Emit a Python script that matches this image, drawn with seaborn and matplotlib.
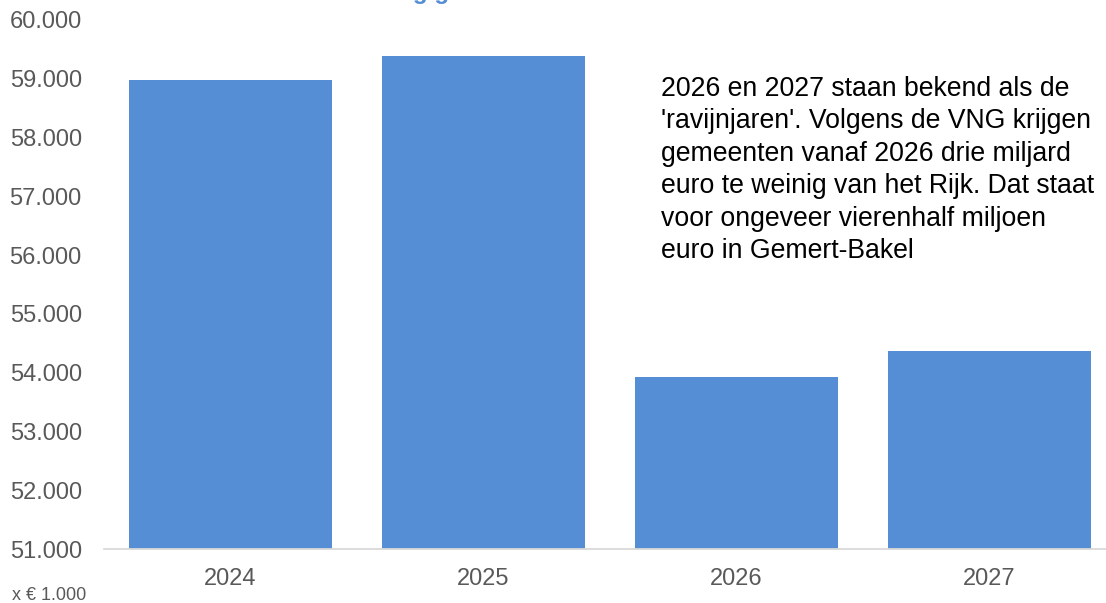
import matplotlib
matplotlib.use("Agg")
import matplotlib.pyplot as plt
import matplotlib.ticker as mticker
import numpy as np
import pandas as pd
import seaborn as sns

# Algemene uitkering per jaar (x € 1.000)
jaren = ["2024", "2025", "2026", "2027"]
bedragen = [58975, 59385, 53925, 54370]

y_ticks = list(range(51000, 60001, 1000))

toelichting = ("2026 en 2027 staan bekend als de\n"
               "'ravijnjaren'. Volgens de VNG krijgen\n"
               "gemeenten vanaf 2026 drie miljard\n"
               "euro te weinig van het Rijk. Dat staat\n"
               "voor ongeveer vierenhalf miljoen\n"
               "euro in Gemert-Bakel")

sns.set_theme(style="white")
plt.rcParams["font.family"] = ["Liberation Sans", "DejaVu Sans"]

df = pd.DataFrame({"jaar": jaren, "bedrag": bedragen})

fig = plt.figure(figsize=(11.06, 6.03), dpi=100)
ax = fig.add_axes([104 / 1106, 1 - 549 / 603, 1012 / 1106, 529 / 603])

sns.barplot(data=df, x="jaar", y="bedrag", color="#558ED5", saturation=1,
            width=0.8, ax=ax)
for p in ax.patches:
    p.set_edgecolor("none")

ax.set_xlim(-0.5, 3.5)
ax.set_ylim(51000, 60000)
ax.set_yticks(y_ticks)
ax.yaxis.set_major_formatter(
    mticker.FuncFormatter(lambda v, _: f"{int(v):,}".replace(",", ".")))
ax.set_xlabel("")
ax.set_ylabel("")

for side in ["left", "right", "top"]:
    ax.spines[side].set_visible(False)
ax.spines["bottom"].set_color("#D9D9D9")
ax.spines["bottom"].set_linewidth(1.3)

ax.tick_params(axis="y", length=0, labelsize=17, labelcolor="#595959", pad=16)
ax.tick_params(axis="x", which="major", length=0, labelsize=17,
               labelcolor="#595959", pad=14)
ax.set_xticks(np.arange(-0.5, 4, 1), minor=True)
ax.tick_params(axis="x", which="minor", length=7, width=1.3, color="#D9D9D9",
               direction="out")

fig.text(661 / 1106, 1 - 76 / 603, toelichting, fontsize=19.2, color="black",
         va="top", ha="left", linespacing=1.32)

fig.text(12 / 1106, 1 - 595 / 603, "x € 1.000", fontsize=13, color="#595959",
         va="center", ha="left")

# Titel valt grotendeels boven de rand van de figuur
fig.text(322 / 1106, 1 + 0.8 / 603, "Uitkering gemeentefonds", fontsize=17.5,
         fontweight="bold", color="#558ED5", ha="left", va="baseline")

fig.savefig("out.png", dpi=100)
